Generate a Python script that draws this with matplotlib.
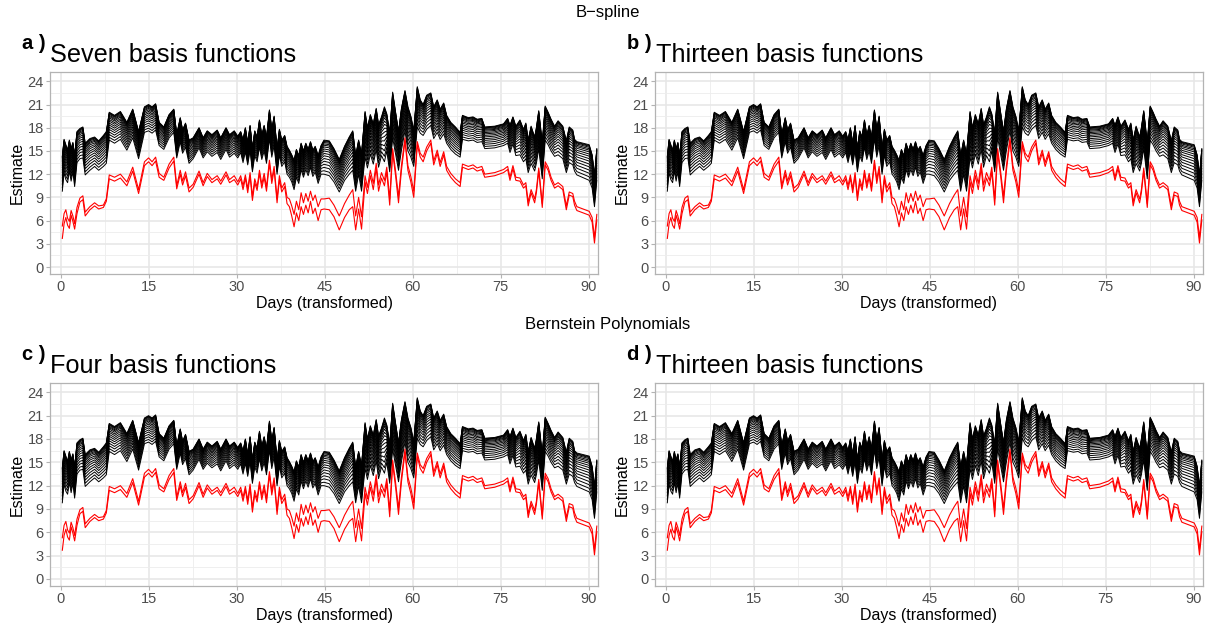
import matplotlib
matplotlib.use("Agg")
import matplotlib.pyplot as plt
from matplotlib.ticker import MultipleLocator
import numpy as np

plt.rcParams['font.family'] = ['Liberation Sans', 'DejaVu Sans']

# days (transformed) and read-off curves
days = [0.3, 0.6, 0.9, 1.2, 1.5, 1.8, 2.1, 2.4, 2.8, 3.3, 3.8, 4.2, 5.0, 5.8, 6.5, 7.3, 7.8,
        8.3, 9.2, 10.2, 11.3, 12.3, 13.3, 14.3, 15.0, 15.6, 16.2, 16.8, 17.6, 18.5, 19.3, 19.8,
        20.4, 20.8, 21.3, 21.9, 22.6, 23.6, 24.3, 25.0, 25.8, 26.7, 27.3, 28.2, 28.8, 29.6, 30.2,
        30.7, 31.1, 31.5, 31.9, 32.3, 32.7, 33.1, 33.5, 33.9, 34.3, 34.7, 35.1, 35.6, 36.0, 36.4,
        36.9, 37.3, 37.7, 38.2, 38.6, 39.0, 39.4, 39.8, 40.2, 40.6, 41.0, 41.4, 41.8, 42.2, 42.6,
        43.0, 43.4, 43.9, 44.4, 44.9, 45.8, 46.6, 47.5, 48.4, 49.2, 49.8, 50.3, 50.8, 51.3, 51.9,
        52.3, 52.8, 53.3, 53.8, 54.2, 54.7, 55.2, 55.6, 56.1, 56.6, 57.1, 57.6, 58.1, 58.7, 59.2,
        59.7, 60.2, 60.8, 61.3, 61.8, 62.4, 63.1, 63.6, 64.2, 64.7, 65.3, 65.8, 66.5, 67.3, 68.1,
        68.5, 69.5, 70.3, 71.0, 71.8, 72.3, 74.0, 75.5, 76.2, 76.6, 77.1, 77.6, 78.3, 78.9, 79.3,
        79.7, 80.2, 80.8, 81.1, 81.5, 82.1, 82.6, 83.1, 83.6, 84.2, 84.8, 85.6, 86.2, 86.7, 87.3,
        87.6, 88.0, 90.1, 90.6, 91.0, 91.4]

red_low = [3.7, 5.6, 6.4, 5.4, 5.0, 6.7, 5.9, 4.9, 6.9, 8.4, 8.7, 6.6, 7.4, 7.9, 7.5, 7.7, 8.5,
           11.4, 11.1, 11.5, 10.5, 12.4, 9.5, 13.1, 13.6, 13.1, 13.7, 11.6, 11.2, 12.8, 13.7, 10.1,
           12.0, 10.6, 11.8, 9.7, 10.3, 12.0, 10.5, 11.7, 10.9, 11.4, 10.7, 11.9, 10.9, 11.3, 10.6,
           11.4, 10.0, 11.5, 9.6, 11.8, 8.6, 10.9, 9.9, 12.1, 10.2, 11.6, 9.8, 13.4, 10.8, 12.6,
           8.3, 11.3, 9.7, 10.4, 8.2, 7.8, 6.6, 5.2, 7.0, 6.0, 7.8, 6.8, 8.0, 7.0, 8.5,
           6.9, 7.6, 6.0, 7.4, 7.5, 7.4, 6.5, 4.8, 6.4, 7.4, 7.8, 4.8, 7.5, 4.9, 11.0,
           9.5, 11.8, 10.0, 12.8, 9.8, 11.5, 10.5, 12.3, 8.0, 14.8, 11.8, 8.3, 12.5, 16.3, 12.5,
           11.0, 9.0, 15.8, 14.2, 13.6, 15.0, 16.0, 13.2, 14.7, 13.0, 14.5, 12.5, 11.6, 10.9, 10.4,
           12.9, 12.6, 12.8, 12.4, 12.6, 11.6, 11.8, 12.2, 12.6, 11.2, 12.7, 11.2, 11.1, 10.2, 10.5,
           7.9, 9.6, 8.3, 9.6, 12.4, 7.7, 13.2, 12.5, 11.2, 10.2, 10.5, 10.0, 7.4, 9.3, 9.1,
           8.0, 7.3, 6.7, 5.8, 3.1, 6.1]

red_high = [5.3, 6.9, 7.4, 6.3, 5.9, 7.3, 6.6, 5.6, 7.7, 8.9, 9.2, 7.1, 7.8, 8.3, 7.9, 8.0, 8.8,
            11.9, 11.6, 12.0, 11.0, 12.9, 10.0, 13.6, 14.1, 13.6, 14.2, 12.1, 11.6, 13.3, 14.2, 10.5,
            12.5, 11.1, 12.3, 10.2, 10.7, 12.4, 10.9, 12.1, 11.3, 11.8, 11.1, 12.3, 11.3, 11.8, 11.0,
            11.8, 10.5, 11.9, 10.1, 12.2, 9.1, 11.4, 10.3, 12.5, 10.7, 12.1, 10.3, 13.8, 11.3, 13.0,
            8.8, 11.8, 10.2, 10.9, 9.0, 8.8, 7.9, 6.8, 8.5, 7.4, 9.6, 8.3, 9.5, 8.5, 9.8,
            8.6, 9.3, 7.8, 8.8, 8.8, 8.9, 8.0, 6.6, 8.2, 9.3, 10.0, 6.6, 9.0, 6.5, 11.8,
            10.3, 12.5, 10.8, 13.4, 10.6, 12.2, 11.2, 12.9, 8.8, 15.3, 12.4, 9.1, 13.1, 16.7, 13.1,
            11.7, 9.8, 16.2, 14.7, 14.2, 15.5, 16.4, 13.7, 15.1, 13.5, 14.9, 13.0, 12.1, 11.4, 10.9,
            13.3, 13.0, 13.2, 12.8, 13.0, 12.0, 12.2, 12.6, 13.0, 11.6, 13.1, 11.6, 11.5, 10.6, 10.9,
            8.4, 10.0, 8.8, 10.0, 12.8, 8.2, 13.6, 12.9, 11.6, 10.6, 10.9, 10.4, 7.9, 9.7, 9.5,
            8.5, 7.8, 7.2, 6.4, 3.8, 6.8]

black_low = [9.8, 12.2, 11.3, 10.9, 12.4, 11.1, 12.3, 10.4, 13.5, 14.0, 14.1, 11.9, 12.5, 13.0, 12.5, 13.0, 13.4,
             16.4, 16.0, 16.5, 15.1, 16.7, 14.0, 17.4, 17.6, 17.3, 17.7, 15.7, 15.2, 16.7, 17.4, 14.1,
             16.2, 14.7, 15.5, 13.4, 14.0, 15.4, 14.1, 14.9, 14.3, 14.8, 13.9, 15.2, 14.2, 14.7, 14.1,
             14.8, 13.5, 14.9, 13.2, 15.1, 12.3, 14.4, 13.6, 15.5, 13.9, 15.0, 13.4, 16.6, 14.2, 15.7,
             12.0, 14.5, 13.0, 13.6, 12.0, 11.6, 11.0, 10.0, 11.6, 10.8, 12.6, 11.6, 12.6, 11.8, 12.9,
             11.7, 12.3, 10.8, 12.0, 12.0, 11.8, 11.0, 9.7, 11.2, 12.0, 12.5, 9.8, 12.0, 9.8, 14.2,
             12.8, 14.6, 13.3, 15.2, 12.9, 14.4, 13.6, 15.0, 12.3, 16.7, 14.6, 12.5, 15.1, 17.6, 15.0,
             14.2, 13.0, 18.1, 17.3, 17.0, 17.8, 18.3, 16.6, 17.4, 16.5, 17.2, 16.0, 15.2, 14.6, 14.2,
             16.5, 16.3, 16.4, 16.1, 16.2, 15.3, 15.4, 15.7, 16.0, 14.8, 15.9, 14.4, 14.5, 13.6, 14.0,
             12.2, 13.4, 12.4, 13.4, 15.3, 11.4, 16.4, 15.8, 15.0, 14.3, 14.5, 14.0, 12.2, 13.5, 13.2,
             12.4, 11.9, 11.2, 10.2, 7.8, 11.2]

black_high = [14.3, 16.5, 15.8, 15.1, 16.4, 15.3, 16.1, 14.4, 17.5, 17.9, 18.1, 16.0, 16.6, 16.8, 16.3, 17.0, 17.5,
              20.0, 19.6, 20.1, 18.7, 20.4, 17.5, 20.7, 21.0, 20.7, 21.1, 18.7, 18.1, 19.7, 20.4, 17.1,
              19.3, 17.7, 18.6, 16.4, 16.7, 18.0, 16.7, 17.6, 17.1, 17.7, 16.7, 18.0, 17.1, 17.6, 16.9,
              17.5, 16.4, 18.0, 16.0, 18.3, 15.3, 17.6, 16.8, 19.0, 17.0, 18.3, 16.7, 20.3, 17.8, 19.5,
              15.2, 17.8, 16.4, 17.0, 15.6, 15.1, 14.5, 13.8, 15.2, 14.4, 16.0, 15.0, 16.0, 15.2, 16.2,
              15.1, 15.6, 14.4, 15.7, 16.4, 16.3, 15.3, 13.9, 15.6, 16.8, 17.6, 14.4, 16.4, 14.6, 20.1,
              18.0, 19.7, 18.5, 20.5, 18.4, 19.4, 20.7, 19.8, 17.3, 22.6, 20.0, 17.5, 20.5, 22.8, 20.7,
              19.5, 17.6, 23.3, 21.6, 21.0, 22.2, 22.5, 20.7, 21.6, 20.4, 21.2, 19.6, 18.7, 18.1, 17.4,
              19.6, 19.3, 19.4, 19.1, 19.2, 18.1, 18.2, 18.5, 19.2, 18.3, 19.4, 18.2, 19.0, 17.8, 18.6,
              16.4, 18.2, 16.8, 18.0, 20.2, 16.0, 20.8, 20.0, 19.1, 18.2, 18.9, 18.2, 16.3, 18.1, 17.7,
              16.5, 16.2, 15.8, 14.5, 11.8, 15.3]

# relative position of each black curve inside the band (bottom -> top)
black_levels = [0.0, 0.1, 0.2, 0.29, 0.38, 0.46, 0.54, 0.61, 0.68, 0.74, 0.8,
                0.85, 0.89, 0.93, 0.96, 0.98, 1.0]

panels = [("a )", "Seven basis functions"),
          ("b )", "Thirteen basis functions"),
          ("c )", "Four basis functions"),
          ("d )", "Thirteen basis functions")]

W, H = 1216, 625
fig = plt.figure(figsize=(W / 100, H / 100), dpi=100)

x = np.array(days)
blo = np.array(black_low)
bhi = np.array(black_high)

# axes boxes in pixels: left, top, right, bottom
boxes = [(50, 72, 598, 274), (655, 72, 1203, 274),
         (50, 383, 598, 586), (655, 383, 1203, 586)]

for (tag, title), (l, t, r, b) in zip(panels, boxes):
    ax = fig.add_axes([l / W, 1 - b / H, (r - l) / W, (b - t) / H])
    for lev in black_levels:
        ax.plot(x, blo + lev * (bhi - blo), color="black", lw=0.7)
    ax.plot(x, red_low, color="red", lw=0.8)
    ax.plot(x, red_high, color="red", lw=0.8)

    ax.set_xlim(-1.8, 91.6)
    ax.set_ylim(-0.9, 25.2)
    ax.xaxis.set_major_locator(MultipleLocator(15))
    ax.xaxis.set_minor_locator(MultipleLocator(7.5))
    ax.yaxis.set_major_locator(MultipleLocator(3))
    ax.yaxis.set_minor_locator(MultipleLocator(1.5))
    ax.grid(which="major", color="#E6E6E6", lw=1.1)
    ax.grid(which="minor", color="#EDEDED", lw=0.6)
    ax.set_axisbelow(True)
    for s in ax.spines.values():
        s.set_color("#B3B3B3")
        s.set_linewidth(0.9)
    ax.tick_params(which="major", length=3, width=0.8, color="#B3B3B3",
                   labelcolor="#4D4D4D", labelsize=10.5, pad=1.5)
    ax.tick_params(which="minor", length=0)
    ax.set_xlabel("Days (transformed)", fontsize=11.5, labelpad=1)
    ax.set_ylabel("Estimate", fontsize=11.5, labelpad=2)

    fig.text((l - 28) / W, 1 - (t - 23) / H, tag, fontsize=14.5, fontweight="bold",
             ha="left", va="baseline")
    fig.text((l + 0.5) / W, 1 - (t - 10) / H, title, fontsize=18.2,
             ha="left", va="baseline")

fig.text(0.5, 1 - 12 / H, "B\u2212spline", fontsize=12, ha="center", va="center")
fig.text(0.5, 1 - 325 / H, "Bernstein Polynomials", fontsize=12, ha="center", va="center")

fig.savefig("out.png", dpi=100)
